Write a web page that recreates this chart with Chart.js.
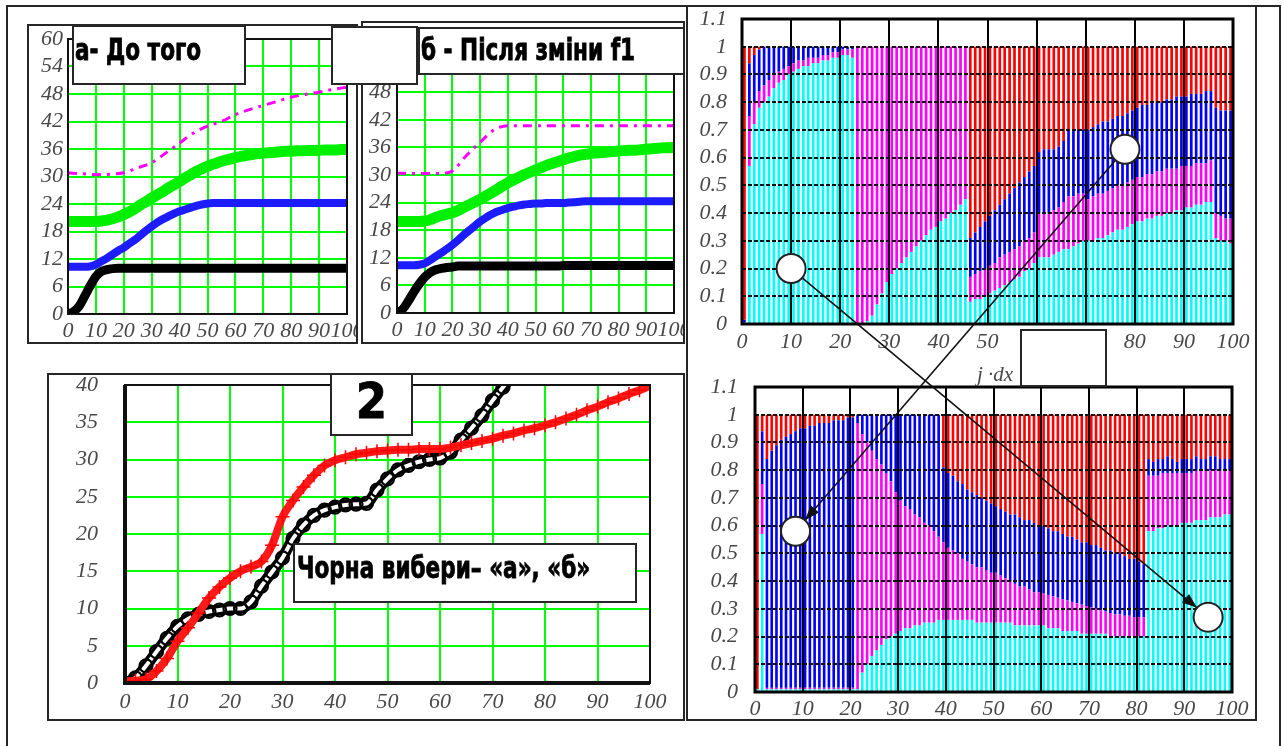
<!DOCTYPE html>
<html><head><meta charset="utf-8">
<script src="https://cdn.jsdelivr.net/npm/chart.js@4/dist/chart.umd.min.js"></script>
<style>
html,body{margin:0;padding:0;background:#fff;}
#page{position:relative;width:1284px;height:746px;overflow:hidden;background:#fff;}
canvas{position:absolute;z-index:1;}
.fr{position:absolute;border:2px solid #262626;box-sizing:border-box;z-index:2;}
.bx{position:absolute;border:2px solid #262626;box-sizing:border-box;background:#fff;z-index:3;}
.tt{position:absolute;z-index:4;font-family:'DejaVu Sans Condensed','DejaVu Sans',sans-serif;font-stretch:condensed;font-weight:bold;line-height:1;white-space:nowrap;transform-origin:0 0;color:#000;-webkit-text-stroke:0.8px #000;}
.ax{position:absolute;z-index:4;font-family:'Liberation Serif',serif;font-style:italic;font-size:21px;line-height:1;color:#484848;white-space:nowrap;}
#ov{z-index:5;left:0;top:0;}
</style></head>
<body><div id="page">
<div class="fr" style="left:6px;top:5px;width:1275px;height:760px;"></div>
<div class="fr" style="left:686px;top:5px;width:571px;height:716px;"></div>
<div class="fr" style="left:27px;top:24px;width:331px;height:320px;"></div>
<div class="fr" style="left:361px;top:21px;width:324px;height:323px;"></div>
<div class="fr" style="left:47px;top:373px;width:638px;height:348px;"></div>

<canvas id="cA"></canvas>
<canvas id="cB"></canvas>
<canvas id="c2"></canvas>
<canvas id="cTop"></canvas>
<canvas id="cBot"></canvas>

<div class="bx" style="left:72px;top:25px;width:174px;height:60px;"></div>
<div class="bx" style="left:331px;top:26px;width:87px;height:59px;"></div>
<div class="bx" style="left:418px;top:27px;width:267px;height:48px;"></div>
<div class="bx" style="left:330px;top:373px;width:83px;height:63px;"></div>
<div class="bx" style="left:293px;top:543px;width:344px;height:60px;"></div>
<div class="bx" style="left:1020px;top:329px;width:87px;height:58px;"></div>

<div class="tt" style="left:75px;top:35px;font-size:30px;transform:scaleX(0.8);">а- До того</div>
<div class="tt" style="left:421px;top:35px;font-size:30px;transform:scaleX(0.8);">б - Після зміни f1</div>
<div class="tt" style="left:330px;top:376px;width:83px;text-align:center;font-size:50px;">2</div>
<div class="tt" style="left:297px;top:553px;font-size:30px;transform:scaleX(0.8);">Чорна вибери– «а», «б»</div>
<div class="ax" style="left:977px;top:364px;">j ·dx</div>

<canvas id="ov"></canvas>
</div>
<script>
// ---------------- DATA ----------------
const xTicks = ['0','10','20','30','40','50','60','70','80','90','100'];
const yTicksAB = ['0','6','12','18','24','30','36','42','48','54','60'];
const yTicks2 = ['0','5','10','15','20','25','30','35','40'];
const yTicksFrac = ['0','0.1','0.2','0.3','0.4','0.5','0.6','0.7','0.8','0.9','1','1.1'];

const xsStep2 = [0,2,4,6,8,10,12,14,16,18,20,22,24,26,28,30,32,34,36,38,40,42,44,46,48,50,52,54,56,58,60,62,64,66,68,70,72,74,76,78,80,82,84,86,88,90,92,94,96,98,100];
const xsStep5 = [0,5,10,15,20,25,30,35,40,45,50,55,60,65,70,75,80,85,90,95,100];
const xsBlack2 = [0,2,4,6,8,10,12,14,16,18,20,22,24,26,28,30,32,34,36,38,40,42,44,46,48,50,52,54,56,58,60,62,64,66,68,70,72,74];

// panel "а- До того"
const aBlack = [0,0.5,1.7,3.9,6.2,8.2,9.3,9.7,9.9,10, 10,10,10,10,10,10,10,10,10,10, 10,10,10,10,10,10,10,10,10,10, 10,10,10,10,10,10,10,10,10,10, 10,10,10,10,10,10,10,10,10,10, 10];
const aBlue = [10.3,10.3,10.3,10.3,10.4,10.8,11.5,12.2,13,13.8, 14.5,15.4,16.2,17.2,18.2,19.1,20,20.7,21.3,21.9, 22.4,22.8,23.2,23.6,23.9,24.1,24.2,24.2,24.2,24.2, 24.2,24.2,24.2,24.2,24.2,24.2,24.2,24.2,24.2,24.2, 24.2,24.2,24.2,24.2,24.2,24.2,24.2,24.2,24.2,24.2, 24.2];
const aGreen = [20.2,20.2,20.2,20.2,20.2,20.2,20.3,20.5,20.8,21.2, 21.7,22.3,23,23.8,24.5,25.3,26,26.7,27.5,28.2, 28.9,29.7,30.4,31.1,31.7,32.2,32.7,33.1,33.5,33.8, 34.1,34.4,34.6,34.8,35,35.1,35.2,35.3,35.4,35.5, 35.5,35.6,35.6,35.7,35.7,35.7,35.8,35.8,35.8,35.9, 35.9];
const aMagenta = [30.8,30.6,30.4,30.5,30.8,31.9,33,35.1,37.3,39.5,41,42,43.5,44.6,45.5,46.4,47.3,47.9,48.4,49,49.5];

// panel "б - Після зміни f1"
const bBlack = [0.1,0.8,2.5,4.5,6.3,7.8,8.8,9.4,9.7,9.9, 10,10.2,10.2,10.2,10.2,10.2,10.2,10.2,10.2,10.2, 10.2,10.2,10.2,10.2,10.2,10.2,10.2,10.2,10.2,10.2, 10.3,10.3,10.3,10.3,10.3,10.3,10.3,10.3,10.3,10.3, 10.3,10.3,10.3,10.3,10.3,10.3,10.3,10.3,10.3,10.3, 10.3];
const bBlue = [10.4,10.4,10.4,10.4,10.5,10.8,11.5,12.3,13.1,13.9, 14.8,15.8,16.9,17.9,18.9,19.9,20.7,21.4,22,22.4, 22.8,23.1,23.4,23.6,23.7,23.8,23.8,23.9,23.9,23.9, 23.9,24,24.1,24.2,24.3,24.3,24.3,24.3,24.3,24.3, 24.3,24.3,24.3,24.3,24.3,24.3,24.3,24.3,24.3,24.3, 24.3];
const bGreen = [19.9,19.9,19.9,19.9,19.9,20,20.3,20.8,21.2,21.5, 21.8,22.3,22.9,23.5,24.1,24.7,25.4,26.1,26.8,27.6, 28.3,28.9,29.5,30.1,30.6,31.1,31.6,32.1,32.5,32.9, 33.3,33.7,34,34.3,34.5,34.7,34.8,34.9,35,35.1, 35.2,35.3,35.4,35.4,35.5,35.6,35.7,35.8,35.9,35.9, 36];
const bMagenta = [30.4,30.3,30.3,30.3,30.9,34.2,37.1,39.8,40.7,40.7,40.7,40.7,40.7,40.7,40.7,40.7,40.7,40.7,40.7,40.7,40.7];

// panel "2"
const p2Black = [0,0.7,2.3,4.2,6,7.6,8.6,9.2,9.6,9.8, 10,10,10.9,13,14.9,16.8,19.4,21.2,22.5,23.2, 23.6,23.9,24,24.1,25.9,27.4,28.6,29.2,29.7,30, 30.2,31,32.6,34.2,35.9,37.9,39.7,41.5];
const p2Red = [0.2,0.3,0.5,1.6,3.3,5.6,7.4,9.4,11.4,12.9, 14.1,15,15.6,16.3,18.5,22.3,24.5,26.3,27.9,29.2, 29.9,30.3,30.7,30.9,31.1,31.2,31.3,31.3,31.4,31.4, 31.4,31.6,31.9,32.2,32.5,32.8,33.2,33.5,33.9,34.2, 34.6,35,35.5,36,36.6,37.1,37.7,38.2,38.8,39.3, 39.9];

// stacked fraction charts: cumulative tops (cyan, +magenta, +blue; red fills to 1)
const cellIndex = Array.from({length: 100}, (_, j) => j);
const topCyan = [0,0.57,0.72,0.78,0.8,0.82,0.85,0.87,0.88,0.9, 0.91,0.92,0.93,0.93,0.94,0.94,0.95,0.95,0.96,0.96, 0.97,0.97,0.96,0,0,0.01,0.03,0.07,0.11,0.15, 0.18,0.2,0.22,0.24,0.26,0.28,0.3,0.32,0.34,0.35, 0.37,0.38,0.4,0.41,0.43,0.45,0.08,0.09,0.09,0.1, 0.11,0.12,0.13,0.14,0.15,0.16,0.17,0.19,0.2,0.22, 0.24,0.24,0.24,0.25,0.26,0.27,0.27,0.28,0.29,0.3, 0.3,0.3,0.31,0.31,0.32,0.33,0.34,0.34,0.35,0.36, 0.37,0.37,0.38,0.38,0.39,0.39,0.4,0.4,0.41,0.41, 0.42,0.42,0.43,0.43,0.44,0.44,0.31,0.3,0.3,0.29];
const topMagenta = [0.005,0.75,0.8,0.84,0.86,0.88,0.9,0.91,0.92,0.93, 0.94,0.95,0.95,0.96,0.96,0.96,0.97,0.97,0.98,0.98, 0.99,0.99,0.99,1,1,1,1,1,1,1, 1,1,1,1,1,1,1,1,1,1, 1,1,1,1,1,1,0.17,0.18,0.19,0.2, 0.21,0.22,0.24,0.25,0.26,0.27,0.28,0.3,0.31,0.33, 0.4,0.4,0.4,0.41,0.42,0.44,0.46,0.46,0.47,0.47, 0.45,0.46,0.47,0.47,0.48,0.49,0.5,0.5,0.51,0.52, 0.53,0.53,0.54,0.54,0.55,0.55,0.56,0.56,0.56,0.57, 0.57,0.57,0.58,0.58,0.58,0.59,0.4,0.39,0.38,0.38];
const topBlue = [0.015,0.94,0.97,0.99,1,1,1,1,1,1, 1,1,1,1,1,1,1,1,1,1, 1,1,1,1,1,1,1,1,1,1, 1,1,1,1,1,1,1,1,1,1, 1,1,1,1,1,1,0.31,0.33,0.35,0.37, 0.39,0.41,0.43,0.45,0.47,0.49,0.51,0.53,0.55,0.57, 0.62,0.63,0.63,0.63,0.64,0.66,0.7,0.7,0.7,0.7, 0.7,0.71,0.72,0.73,0.73,0.74,0.75,0.75,0.76,0.77, 0.78,0.79,0.79,0.8,0.8,0.8,0.81,0.81,0.82,0.82, 0.82,0.83,0.83,0.83,0.84,0.84,0.78,0.77,0.77,0.77];

const botCyan = [0.01,0.57,0.01,0.01,0.01,0.01,0.01,0.01,0.01,0.01, 0.01,0.01,0.01,0.01,0.01,0.01,0.01,0.01,0.01,0.01, 0.01,0.01,0.07,0.1,0.13,0.15,0.17,0.19,0.2,0.21, 0.22,0.23,0.23,0.24,0.24,0.25,0.25,0.25,0.26,0.26, 0.26,0.26,0.26,0.26,0.26,0.26,0.25,0.25,0.25,0.25, 0.25,0.25,0.25,0.25,0.24,0.24,0.24,0.24,0.24,0.24, 0.24,0.23,0.23,0.23,0.22,0.22,0.22,0.22,0.21,0.21, 0.21,0.21,0.21,0.21,0.2,0.2,0.2,0.2,0.2,0.2, 0.2,0.2,0.58,0.58,0.59,0.59,0.6,0.6,0.6,0.61, 0.61,0.61,0.62,0.62,0.62,0.63,0.63,0.63,0.64,0.64];
const botMagenta = [0.01,0.75,0.015,0.015,0.015,0.015,0.015,0.015,0.015,0.015, 0.015,0.015,0.015,0.015,0.015,0.015,0.015,0.015,0.015,0.015, 0.015,0.97,0.93,0.9,0.87,0.84,0.82,0.79,0.76,0.72, 0.69,0.67,0.66,0.64,0.63,0.61,0.6,0.58,0.56,0.54, 0.52,0.51,0.5,0.48,0.47,0.46,0.45,0.45,0.44,0.43, 0.43,0.42,0.41,0.4,0.39,0.38,0.38,0.37,0.36,0.36, 0.355,0.35,0.345,0.34,0.335,0.33,0.325,0.32,0.315,0.31, 0.305,0.3,0.295,0.29,0.285,0.28,0.28,0.275,0.275,0.27, 0.27,0.27,0.78,0.78,0.78,0.79,0.79,0.79,0.79,0.79, 0.79,0.79,0.8,0.8,0.8,0.8,0.8,0.8,0.8,0.8];
const botBlue = [0.01,0.94,0.84,0.87,0.89,0.91,0.92,0.93,0.94,0.95, 0.95,0.96,0.96,0.97,0.97,0.97,0.98,0.98,0.98,0.99, 0.99,1,1,1,1,1,1,1,1,1, 1,1,1,1,1,1,1,1,1,0.81, 0.79,0.78,0.76,0.75,0.73,0.72,0.71,0.7,0.69,0.68, 0.67,0.66,0.65,0.64,0.64,0.63,0.62,0.62,0.61,0.6, 0.6,0.59,0.58,0.58,0.57,0.56,0.56,0.55,0.54,0.54, 0.53,0.53,0.52,0.51,0.51,0.5,0.5,0.49,0.48,0.48, 0.47,0.46,0.84,0.83,0.84,0.84,0.85,0.84,0.83,0.84, 0.84,0.84,0.85,0.84,0.84,0.85,0.85,0.84,0.84,0.84];

// annotation circles (data coordinates of each fraction chart)
const markTop = [[10, 0.2], [78, 0.63]];
const markBottom = [[8.5, 0.58], [95, 0.27]];

// ---------------- RENDER ----------------
const TICK_FONT = {family: "'Liberation Serif', serif", style: 'italic', size: 22};
const TICK_COLOR = '#484848';

const framePlugin = {
  id: 'frame',
  afterDraw(chart, args, o) {
    const {ctx, chartArea: a} = chart;
    ctx.save();
    ctx.strokeStyle = o.color || '#000';
    ctx.lineWidth = o.width || 2;
    ctx.strokeRect(a.left, a.top, a.right - a.left, a.bottom - a.top);
    if (o.thick) {
      ctx.lineWidth = o.thick;
      ctx.beginPath();
      ctx.moveTo(a.left, a.top); ctx.lineTo(a.left, a.bottom); ctx.lineTo(a.right, a.bottom);
      ctx.stroke();
    }
    ctx.restore();
  }
};

function pts(xs, ys) { return xs.map((x, i) => ({x, y: ys[i]})); }

function build(id, cb, pb, type, datasets, xo, yo, frame) {
  const c = document.getElementById(id);
  c.width = cb.w; c.height = cb.h;
  c.style.left = cb.l + 'px'; c.style.top = cb.t + 'px';
  const yW = pb.l - cb.l, xH = cb.t + cb.h - pb.b;
  return new Chart(c, {
    type,
    data: {datasets},
    plugins: [framePlugin],
    options: {
      responsive: false, animation: false, events: [],
      layout: {padding: {left: 0, top: pb.t - cb.t, right: cb.l + cb.w - pb.r, bottom: 0}},
      plugins: {legend: {display: false}, tooltip: {enabled: false}, frame},
      scales: {
        x: Object.assign({type: 'linear', afterFit(s) { s.height = xH; s.paddingLeft = 0; s.paddingRight = 0; }}, xo),
        y: Object.assign({type: 'linear', afterFit(s) { s.width = yW; s.paddingTop = 0; s.paddingBottom = 0; }}, yo)
      }
    }
  });
}

function ticksOf(labels, step, pad) {
  return {stepSize: step, padding: pad, color: TICK_COLOR, font: TICK_FONT, autoSkip: false, maxRotation: 0,
          callback: (v) => labels[Math.round(v / step)]};
}

function lineAxes(yLabels, yStep, yMax, xPad, yPad) {
  return [
    {min: 0, max: 100, ticks: ticksOf(xTicks, 10, xPad), grid: {color: '#00ff00', lineWidth: 2, drawTicks: false}, border: {display: false}},
    {min: 0, max: yMax, ticks: ticksOf(yLabels, yStep, yPad), grid: {color: '#00ff00', lineWidth: 2, drawTicks: false}, border: {display: false}}
  ];
}

function panelSets(black, blue, green, magenta) {
  const common = {pointRadius: 0, cubicInterpolationMode: 'monotone', fill: false};
  return [
    Object.assign({data: pts(xsStep2, black), borderColor: '#000', borderWidth: 9}, common),
    Object.assign({data: pts(xsStep2, blue), borderColor: '#1c1cff', borderWidth: 8}, common),
    Object.assign({data: pts(xsStep2, green), borderColor: '#00f000', borderWidth: 11}, common),
    Object.assign({data: pts(xsStep5, magenta), borderColor: '#ff00ff', borderWidth: 3, borderDash: [9, 6, 3, 6]}, common)
  ];
}

// Panel а
const axA = lineAxes(yTicksAB, 6, 60, 4, 5);
build('cA', {l: 29, t: 26, w: 328, h: 316}, {l: 68, t: 39, r: 347, b: 314}, 'line',
      panelSets(aBlack, aBlue, aGreen, aMagenta), axA[0], axA[1], {color: '#111', width: 2});

// Panel б
const axB = lineAxes(yTicksAB, 6, 60, 4, 6);
build('cB', {l: 363, t: 23, w: 321, h: 319}, {l: 397, t: 37, r: 674, b: 313}, 'line',
      panelSets(bBlack, bBlue, bGreen, bMagenta), axB[0], axB[1], {color: '#111', width: 2});

// Panel 2
const ax2 = lineAxes(yTicks2, 5, 40, 6, 27);
build('c2', {l: 49, t: 375, w: 634, h: 344}, {l: 125, t: 385, r: 650, b: 683}, 'line', [
  {data: pts(xsStep2, p2Red), borderColor: '#ff1a1a', borderWidth: 8, pointStyle: 'cross', pointRadius: 7,
   pointBorderWidth: 1.5, pointBorderColor: '#ff0000', cubicInterpolationMode: 'monotone', fill: false},
  {data: pts(xsBlack2, p2Black), borderColor: '#fff', borderWidth: 4, pointStyle: 'circle', pointRadius: 6.5,
   pointBorderWidth: 2.2, pointBorderColor: '#000', pointBackgroundColor: 'rgba(0,0,0,0)', cubicInterpolationMode: 'monotone', fill: false},
  {data: pts(xsBlack2, p2Black), borderColor: '#000', borderWidth: 11, pointRadius: 0, cubicInterpolationMode: 'monotone', fill: false}
], ax2[0], ax2[1], {color: '#111', width: 2, thick: 4});

// Fraction charts
function stackSets(c, m, b) {
  const seg = (f) => cellIndex.map((j) => ({x: j + 0.5, y: Math.max(0, +f(j).toFixed(4))}));
  return [
    {data: seg(j => c[j]), backgroundColor: '#00ffff'},
    {data: seg(j => m[j] - c[j]), backgroundColor: '#ff00ff'},
    {data: seg(j => b[j] - m[j]), backgroundColor: '#0000ff'},
    {data: seg(j => 1 - b[j]), backgroundColor: '#ff0000'}
  ].map(d => Object.assign(d, {barPercentage: 0.55, categoryPercentage: 1, borderWidth: 0}));
}
function fracAxes(xPad, yPad) {
  return [
    {min: 0, max: 100, offset: false, stacked: true, ticks: ticksOf(xTicks, 10, xPad),
     grid: {color: '#000', lineWidth: 2, drawTicks: false, z: 1, offset: false}, border: {display: false}},
    {min: 0, max: 1.1, stacked: true, ticks: ticksOf(yTicksFrac, 0.1, yPad),
     grid: {color: '#111', lineWidth: 2, drawTicks: false, z: 1}, border: {display: false, dash: [4, 2]}}
  ];
}
const cbTop = {l: 689, t: 8, w: 566, h: 350};
const axT = fracAxes(5, 15);
const chTop = build('cTop', cbTop, {l: 742, t: 19, r: 1233, b: 324}, 'bar',
  stackSets(topCyan, topMagenta, topBlue), axT[0], axT[1], {color: '#000', width: 3});
const cbBot = {l: 689, t: 372, w: 566, h: 347};
const axBt = fracAxes(4, 17);
const chBot = build('cBot', cbBot, {l: 755, t: 387, r: 1232, b: 692}, 'bar',
  stackSets(botCyan, botMagenta, botBlue), axBt[0], axBt[1], {color: '#000', width: 3});

// overlay: circles + arrows
(function drawMarks() {
  const ov = document.getElementById('ov');
  ov.width = 1284; ov.height = 746;
  const ctx = ov.getContext('2d');
  const P = (ch, cb, p) => [cb.l + ch.scales.x.getPixelForValue(p[0]), cb.t + ch.scales.y.getPixelForValue(p[1])];
  const A = P(chTop, cbTop, markTop[0]), B = P(chTop, cbTop, markTop[1]);
  const C = P(chBot, cbBot, markBottom[0]), D = P(chBot, cbBot, markBottom[1]);
  const R = 14.5;
  function arrow(p, q) {
    const dx = q[0] - p[0], dy = q[1] - p[1], L = Math.hypot(dx, dy), ux = dx / L, uy = dy / L;
    const s = [p[0] + ux * R, p[1] + uy * R], e = [q[0] - ux * R, q[1] - uy * R];
    ctx.strokeStyle = '#111'; ctx.lineWidth = 1.6;
    ctx.beginPath(); ctx.moveTo(s[0], s[1]); ctx.lineTo(e[0], e[1]); ctx.stroke();
    const hl = 15, hw = 5.5;
    ctx.fillStyle = '#111';
    ctx.beginPath();
    ctx.moveTo(e[0], e[1]);
    ctx.lineTo(e[0] - ux * hl - uy * hw, e[1] - uy * hl + ux * hw);
    ctx.lineTo(e[0] - ux * hl + uy * hw, e[1] - uy * hl - ux * hw);
    ctx.closePath(); ctx.fill();
  }
  arrow(A, D); arrow(B, C);
  [A, B, C, D].forEach(p => {
    ctx.beginPath(); ctx.arc(p[0], p[1], R, 0, Math.PI * 2);
    ctx.fillStyle = '#fff'; ctx.fill();
    ctx.lineWidth = 2; ctx.strokeStyle = '#222'; ctx.stroke();
  });
})();
</script>
</body></html>
